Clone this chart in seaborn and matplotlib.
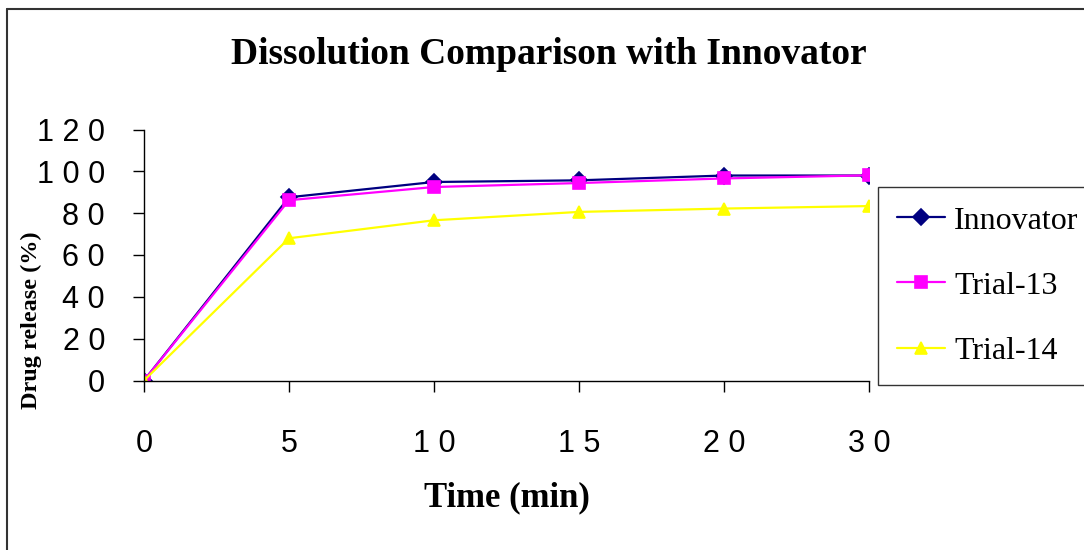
import matplotlib
matplotlib.use("Agg")
import matplotlib.pyplot as plt
from matplotlib.lines import Line2D
import seaborn as sns
import pandas as pd

# Dissolution time points (min) and percent drug released
times = ["0", "5", "10", "15", "20", "30"]
time_labels = ["0", "5", "1 0", "1 5", "2 0", "3 0"]
innovator = [0, 87.6, 94.9, 95.7, 98.0, 98.0]
trial_13 = [0, 86.2, 92.5, 94.4, 96.6, 98.1]
trial_14 = [0, 68.0, 76.6, 80.6, 82.2, 83.4]
series_names = ["Innovator", "Trial-13", "Trial-14"]
y_ticks = [0, 20, 40, 60, 80, 100, 120]
y_tick_labels = ["0", "2 0", "4 0", "6 0", "8 0", "1 0 0", "1 2 0"]

colors = {"Innovator": "#000080", "Trial-13": "#FF00FF", "Trial-14": "#FFFF00"}
markers = ["D", "s", "^"]

df = pd.DataFrame({
    "Time": times * 3,
    "Release": innovator + trial_13 + trial_14,
    "Batch": [n for n in series_names for _ in times],
})

sns.set_theme(style="white")
plt.rcParams["font.family"] = ["Liberation Sans Narrow", "Liberation Sans", "DejaVu Sans"]
plt.rcParams["text.color"] = "black"
plt.rcParams["axes.labelcolor"] = "black"

serif = ["Liberation Serif", "DejaVu Serif"]

fig = plt.figure(figsize=(10.84, 5.5), dpi=100)
ax = fig.add_axes([144 / 1084, 1 - 380.5 / 550, (869 - 144) / 1084, (380.5 - 129.5) / 550])

sns.pointplot(
    data=df, x="Time", y="Release", hue="Batch", order=times,
    hue_order=series_names, palette=colors, markers=markers,
    linestyles=["-", "-", "-"], errorbar=None, ax=ax,
    markersize=8, linewidth=1.6,
)

ax.set_xlim(0, len(times) - 1)
ax.set_ylim(0, 120)
ax.set_xticks(range(len(times)))
ax.set_xticklabels(time_labels)
ax.set_yticks(y_ticks)
ax.set_yticklabels(y_tick_labels)

sns.despine(ax=ax, top=True, right=True)
for side in ("left", "bottom"):
    ax.spines[side].set_color("black")
    ax.spines[side].set_linewidth(1.0)

ax.tick_params(axis="both", which="major", direction="out", length=8, width=1.0,
               color="black", labelsize=22, labelcolor="black")
ax.tick_params(axis="y", pad=20, left=True)
ax.tick_params(axis="x", pad=27, bottom=True)

ax.set_xlabel("Time (min)", family=serif, fontweight="bold", fontsize=25, labelpad=16)
ax.set_ylabel("Drug release (%)", family=serif, fontweight="bold", fontsize=17.5)
ax.yaxis.set_label_coords(-0.141, 0.241)

fig.text(549 / 1084, 1 - 55 / 550, "Dissolution Comparison with Innovator",
         ha="center", va="center", family=serif, fontweight="bold", fontsize=27)

sns.move_legend(
    ax, loc="upper left", bbox_to_anchor=(878 / 1084, 1 - 187 / 550),
    bbox_transform=fig.transFigure, title=None, frameon=True,
    prop={"family": serif, "size": 23},
    handlelength=1.5, handletextpad=0.28, labelspacing=1.12, borderpad=0.6,
    borderaxespad=0, fancybox=False,
)
leg = ax.get_legend()
leg.get_frame().set_edgecolor("black")
leg.get_frame().set_linewidth(1.0)

# Chart border along the top and left edges
fig.add_artist(Line2D([7 / 1084, 7 / 1084], [0, 1 - 9 / 550], color="#333333", lw=1.5,
                      transform=fig.transFigure))
fig.add_artist(Line2D([7 / 1084, 1], [1 - 9 / 550, 1 - 9 / 550], color="#333333", lw=1.5,
                      transform=fig.transFigure))

fig.savefig("out.png", dpi=100)
